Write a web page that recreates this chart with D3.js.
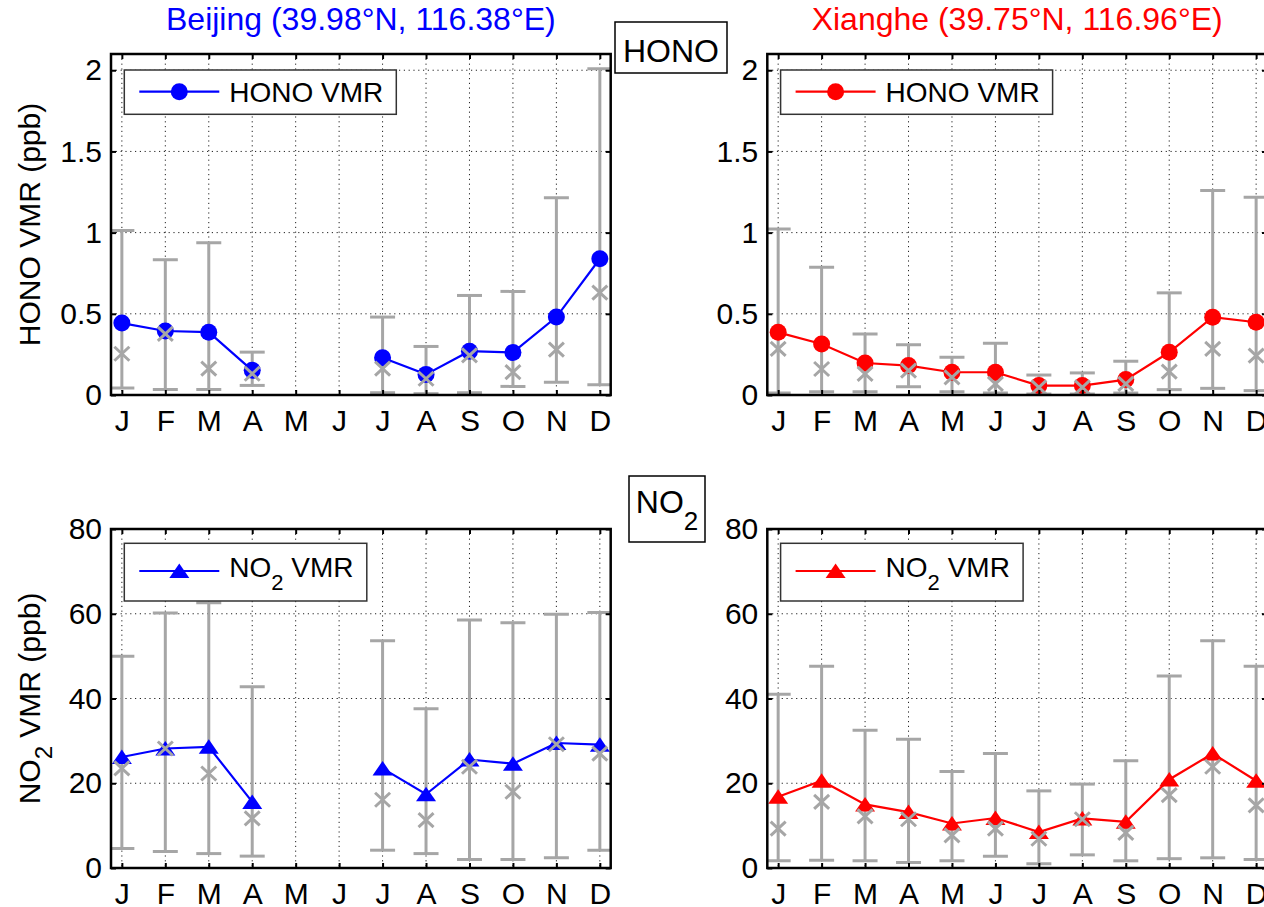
<!DOCTYPE html>
<html>
<head>
<meta charset="utf-8">
<script src="https://cdn.jsdelivr.net/npm/d3@7"></script>
<style>
  body { margin: 0; background: #fff; }
  text { font-family: "Liberation Sans", Arial, sans-serif; white-space: pre; }
</style>
</head>
<body>
<div id="chart"></div>
<script>
const months = ['J', 'F', 'M', 'A', 'M', 'J', 'J', 'A', 'S', 'O', 'N', 'D'];
const honoTicks = [0, 0.5, 1, 1.5, 2];
const no2Ticks = [0, 20, 40, 60, 80];

// Beijing HONO (ppb): mean, median, upper and lower whisker
const bjHonoMean = [0.443, 0.394, 0.387, 0.152, null, null, 0.230, 0.127, 0.270, 0.262, 0.480, 0.839];
const bjHonoMed  = [0.254, 0.377, 0.162, 0.131, null, null, 0.162, 0.100, 0.244, 0.141, 0.279, 0.630];
const bjHonoHi   = [1.013, 0.833, 0.938, 0.264, null, null, 0.480, 0.299, 0.613, 0.638, 1.215, 2.009];
const bjHonoLo   = [0.043, 0.034, 0.034, 0.059, null, null, 0.014, 0.008, 0.014, 0.053, 0.078, 0.063];

// Xianghe HONO (ppb)
const xhHonoMean = [0.386, 0.314, 0.197, 0.181, 0.140, 0.140, 0.058, 0.058, 0.095, 0.263, 0.479, 0.448];
const xhHonoMed  = [0.284, 0.160, 0.130, 0.150, 0.109, 0.068, 0.047, 0.047, 0.068, 0.144, 0.284, 0.242];
const xhHonoHi   = [1.023, 0.787, 0.376, 0.310, 0.232, 0.318, 0.123, 0.136, 0.208, 0.629, 1.260, 1.218];
const xhHonoLo   = [0.012, 0.020, 0.020, 0.051, 0.020, 0.012, 0.006, 0.006, 0.012, 0.033, 0.041, 0.027];

// Beijing NO2 (ppb)
const bjNo2Mean = [26.2, 28.2, 28.6, 15.6, null, null, 23.5, 17.4, 25.6, 24.6, 29.5, 29.1];
const bjNo2Med  = [23.5, 28.2, 22.3, 11.7, null, null, 16.1, 11.3, 23.9, 18.0, 29.2, 27.0];
const bjNo2Hi   = [50.0, 60.2, 62.6, 42.8, null, null, 53.6, 37.6, 58.5, 57.9, 59.9, 60.3];
const bjNo2Lo   = [4.6, 3.9, 3.4, 2.8, null, null, 4.2, 3.4, 2.0, 2.0, 2.4, 4.2];

// Xianghe NO2 (ppb)
const xhNo2Mean = [16.8, 20.6, 15.0, 13.2, 10.5, 11.8, 8.5, 11.7, 10.9, 20.9, 27.0, 20.6];
const xhNo2Med  = [9.3, 15.6, 12.2, 11.5, 7.7, 9.3, 6.9, 11.5, 8.3, 17.2, 23.9, 14.8];
const xhNo2Hi   = [41.0, 47.6, 32.5, 30.4, 22.8, 27.0, 18.2, 19.8, 25.3, 45.3, 53.6, 47.6];
const xhNo2Lo   = [1.7, 1.8, 1.7, 1.3, 1.7, 2.8, 1.0, 3.1, 1.7, 2.2, 2.4, 2.0];

const WIDTH = 1264;
const HEIGHT = 907;
const PANEL_W = 499.7;
const ERR_COLOR = '#a6a6a6';
const CAP_HALF = 12.5;
const TICK_FONT = 30;
const LEGEND_FONT = 28;

const svg = d3.select('#chart')
  .append('svg')
  .attr('width', WIDTH)
  .attr('height', HEIGHT);

const panels = [
  { id: 'bj-hono', left: 111, top: 54, bottom: 395, yMax: 2.1, ticks: honoTicks,
    color: '#0000ff', marker: 'circle', species: ['HONO', ''], yLabel: true,
    mean: bjHonoMean, med: bjHonoMed, hi: bjHonoHi, lo: bjHonoLo,
    legend: { w: 272, h: 44.3, lineY: 21.7, textY: 32.3 } },
  { id: 'xh-hono', left: 767.3, top: 54, bottom: 395, yMax: 2.1, ticks: honoTicks,
    color: '#ff0000', marker: 'circle', species: ['HONO', ''], yLabel: false,
    mean: xhHonoMean, med: xhHonoMed, hi: xhHonoHi, lo: xhHonoLo,
    legend: { w: 272, h: 44.3, lineY: 21.7, textY: 32.3 } },
  { id: 'bj-no2', left: 111, top: 529, bottom: 868, yMax: 80, ticks: no2Ticks,
    color: '#0000ff', marker: 'triangle', species: ['NO', '2'], yLabel: true,
    mean: bjNo2Mean, med: bjNo2Med, hi: bjNo2Hi, lo: bjNo2Lo,
    legend: { w: 242.5, h: 57.7, lineY: 27.7, textY: 33.4 } },
  { id: 'xh-no2', left: 767.3, top: 529, bottom: 868, yMax: 80, ticks: no2Ticks,
    color: '#ff0000', marker: 'triangle', species: ['NO', '2'], yLabel: false,
    mean: xhNo2Mean, med: xhNo2Med, hi: xhNo2Hi, lo: xhNo2Lo,
    legend: { w: 242.5, h: 57.7, lineY: 27.7, textY: 33.4 } }
];

// text with an optional TeX-like subscript, e.g. NO_2
const addSpecies = (sel, species, rest, subSize, drop) => {
  sel.append('tspan').text(species[0]);
  if (species[1]) {
    sel.append('tspan').attr('font-size', subSize).attr('dy', drop).text(species[1]);
    sel.append('tspan').attr('dy', -drop).text(rest);
  } else {
    sel.append('tspan').text(rest);
  }
};

const drawMarker = (sel, type, color) => {
  if (type === 'circle') {
    sel.append('circle').attr('r', 8.5).attr('fill', color);
  } else {
    sel.append('path').attr('d', 'M0,-7.5L10,7L-10,7Z').attr('fill', color);
  }
};

panels.forEach((p) => {
  const x = d3.scaleLinear().domain([0.75, 12.25]).range([p.left, p.left + PANEL_W]);
  const y = d3.scaleLinear().domain([0, p.yMax]).range([p.bottom, p.top]);
  const rows = months.map((m, i) => ({ m: i + 1, mean: p.mean[i], med: p.med[i], hi: p.hi[i], lo: p.lo[i] }));
  const valid = rows.filter((d) => d.mean != null);
  const g = svg.append('g').attr('class', p.id);

  svg.append('clipPath').attr('id', `clip-${p.id}`)
    .append('rect')
    .attr('x', p.left).attr('y', p.top)
    .attr('width', PANEL_W).attr('height', p.bottom - p.top);

  // dotted grid
  const grid = g.append('g')
    .attr('stroke', '#222')
    .attr('stroke-width', 1)
    .attr('stroke-dasharray', '1.2,3.6');
  grid.selectAll('.vgrid')
    .data(d3.range(1, 13))
    .enter().append('line')
      .attr('x1', (d) => x(d)).attr('x2', (d) => x(d))
      .attr('y1', p.top).attr('y2', p.bottom);
  grid.selectAll('.hgrid')
    .data(p.ticks.slice(1))
    .enter().append('line')
      .attr('x1', p.left).attr('x2', p.left + PANEL_W)
      .attr('y1', (d) => y(d)).attr('y2', (d) => y(d));

  // whiskers
  const err = g.append('g')
    .attr('clip-path', `url(#clip-${p.id})`)
    .attr('stroke', ERR_COLOR)
    .attr('stroke-width', 3)
    .selectAll('g')
    .data(valid)
    .enter().append('g');
  err.append('line')
    .attr('x1', (d) => x(d.m)).attr('x2', (d) => x(d.m))
    .attr('y1', (d) => y(d.lo)).attr('y2', (d) => y(d.hi));
  err.append('line')
    .attr('x1', (d) => x(d.m) - CAP_HALF).attr('x2', (d) => x(d.m) + CAP_HALF)
    .attr('y1', (d) => y(d.hi)).attr('y2', (d) => y(d.hi));
  err.append('line')
    .attr('x1', (d) => x(d.m) - CAP_HALF).attr('x2', (d) => x(d.m) + CAP_HALF)
    .attr('y1', (d) => y(d.lo)).attr('y2', (d) => y(d.lo));

  // mean line and markers
  const line = d3.line()
    .defined((d) => d.mean != null)
    .x((d) => x(d.m))
    .y((d) => y(d.mean));
  g.append('path')
    .datum(rows)
    .attr('d', line)
    .attr('fill', 'none')
    .attr('stroke', p.color)
    .attr('stroke-width', 2.2);
  g.append('g').selectAll('g')
    .data(valid)
    .enter().append('g')
      .attr('transform', (d) => `translate(${x(d.m)},${y(d.mean)})`)
      .each(function () { drawMarker(d3.select(this), p.marker, p.color); });

  // medians as grey crosses
  g.append('g')
    .attr('stroke', ERR_COLOR)
    .attr('stroke-width', 3)
    .selectAll('path')
    .data(valid)
    .enter().append('path')
      .attr('d', (d) => `M${x(d.m) - 7.5},${y(d.med) - 7}L${x(d.m) + 7.5},${y(d.med) + 7}M${x(d.m) - 7.5},${y(d.med) + 7}L${x(d.m) + 7.5},${y(d.med) - 7}`);

  // legend
  const lg = g.append('g')
    .attr('transform', `translate(${p.left + 13.3},${p.top + (p.species[1] ? 14.3 : 16)})`);
  lg.append('rect')
    .attr('width', p.legend.w)
    .attr('height', p.legend.h)
    .attr('fill', '#fff')
    .attr('stroke', '#333')
    .attr('stroke-width', 1.5);
  lg.append('line')
    .attr('x1', 15).attr('x2', 95)
    .attr('y1', p.legend.lineY).attr('y2', p.legend.lineY)
    .attr('stroke', p.color)
    .attr('stroke-width', 2.2);
  drawMarker(lg.append('g').attr('transform', `translate(55,${p.legend.lineY})`), p.marker, p.color);
  const lt = lg.append('text')
    .attr('x', 105)
    .attr('y', p.legend.textY)
    .attr('font-size', LEGEND_FONT);
  addSpecies(lt, p.species, ' VMR', 22, 13);

  // axes with inward ticks
  const styleAxis = (sel) => {
    sel.select('.domain').remove();
    sel.attr('font-size', TICK_FONT)
      .attr('font-family', '"Liberation Sans", Arial, sans-serif');
    sel.selectAll('.tick line').attr('stroke-width', 2);
  };
  g.append('g')
    .attr('transform', `translate(0,${p.bottom})`)
    .call(d3.axisBottom(x).tickValues(d3.range(1, 13)).tickFormat((d) => months[d - 1])
      .tickSizeInner(-5).tickSizeOuter(0).tickPadding(15))
    .call(styleAxis);
  g.append('g')
    .attr('transform', `translate(0,${p.top})`)
    .call(d3.axisTop(x).tickValues(d3.range(1, 13)).tickFormat('')
      .tickSizeInner(-5).tickSizeOuter(0))
    .call(styleAxis);
  g.append('g')
    .attr('transform', `translate(${p.left},0)`)
    .call(d3.axisLeft(y).tickValues(p.ticks).tickFormat((d) => String(d))
      .tickSizeInner(-5).tickSizeOuter(0).tickPadding(9))
    .call(styleAxis);
  g.append('g')
    .attr('transform', `translate(${p.left + PANEL_W},0)`)
    .call(d3.axisRight(y).tickValues(p.ticks).tickFormat('')
      .tickSizeInner(-5).tickSizeOuter(0))
    .call(styleAxis);

  g.append('rect')
    .attr('x', p.left).attr('y', p.top)
    .attr('width', PANEL_W).attr('height', p.bottom - p.top)
    .attr('fill', 'none')
    .attr('stroke', '#000')
    .attr('stroke-width', 2.5);

  if (p.yLabel) {
    const yl = svg.append('text')
      .attr('transform', `translate(40,${(p.top + p.bottom) / 2}) rotate(-90)`)
      .attr('text-anchor', 'middle')
      .attr('font-size', TICK_FONT);
    addSpecies(yl, p.species, ' VMR (ppb)', 24, 12);
  }
});

// station titles
svg.append('text')
  .attr('x', 111 + PANEL_W / 2).attr('y', 30)
  .attr('text-anchor', 'middle')
  .attr('font-size', 32)
  .attr('fill', '#0000ff')
  .text('Beijing (39.98°N, 116.38°E)');
svg.append('text')
  .attr('x', 767.3 + PANEL_W / 2).attr('y', 30)
  .attr('text-anchor', 'middle')
  .attr('font-size', 32)
  .attr('fill', '#ff0000')
  .text('Xianghe (39.75°N, 116.96°E)');

// species boxes between the columns
svg.append('rect')
  .attr('x', 615).attr('y', 22).attr('width', 112).attr('height', 51)
  .attr('fill', '#fff').attr('stroke', '#000').attr('stroke-width', 1.5);
svg.append('text')
  .attr('x', 671).attr('y', 62)
  .attr('text-anchor', 'middle')
  .attr('font-size', 32)
  .text('HONO');
svg.append('rect')
  .attr('x', 629).attr('y', 476).attr('width', 76).attr('height', 66)
  .attr('fill', '#fff').attr('stroke', '#000').attr('stroke-width', 1.5);
const no2Box = svg.append('text')
  .attr('x', 667).attr('y', 513)
  .attr('text-anchor', 'middle')
  .attr('font-size', 32);
addSpecies(no2Box, ['NO', '2'], '', 26, 17);
</script>
</body>
</html>
